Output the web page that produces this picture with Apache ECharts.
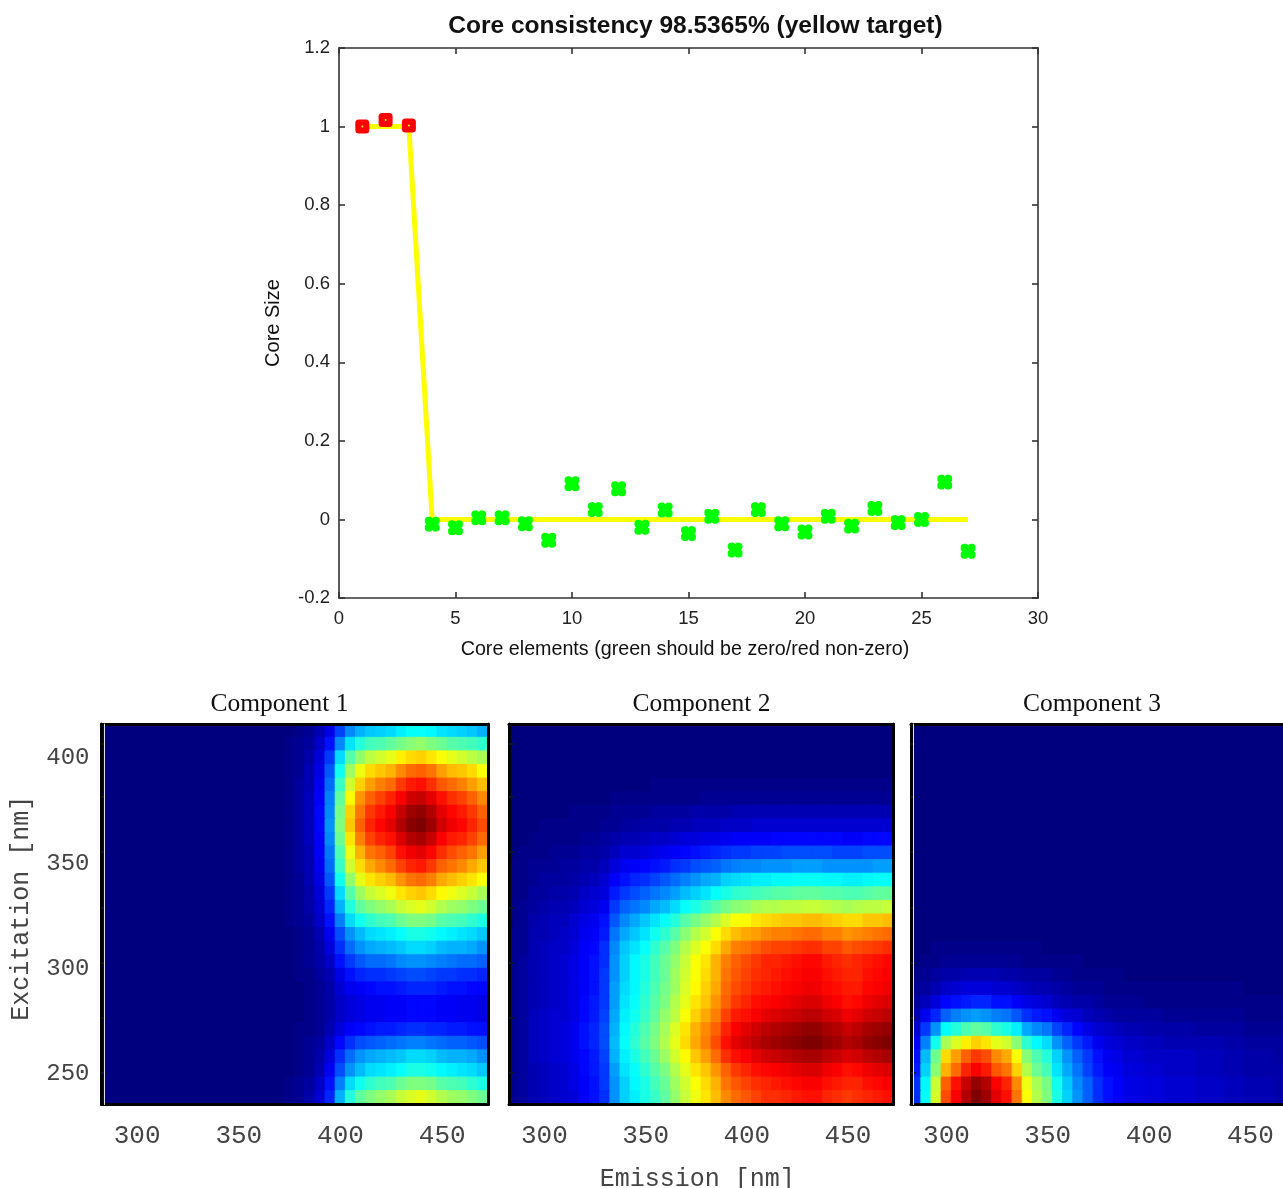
<!DOCTYPE html>
<html><head><meta charset="utf-8">
<style>html,body{margin:0;padding:0;background:#fff}#c{width:1283px;height:1188px}</style>
<script src="https://cdn.jsdelivr.net/npm/echarts@6/dist/echarts.min.js"></script>
</head><body><div id="c"></div>
<script>
const targetX=[1,2,3,4,27];
const targetY=[1,1,1,0,0];
const redX=[1,2,3];
const redY=[1.000,1.017,1.003];
const greenX=[4,5,6,7,8,9,10,11,12,13,14,15,16,17,18,19,20,21,22,23,24,25,26,27];
const greenY=[-0.012,-0.021,0.004,0.004,-0.011,-0.053,0.091,0.025,0.078,-0.020,0.024,-0.036,0.008,-0.078,0.025,-0.011,-0.032,0.008,-0.017,0.028,-0.008,0.000,0.095,-0.081];
const emission=[285,290,295,300,305,310,315,320,325,330,335,340,345,350,355,360,365,370,375,380,385,390,395,400,405,410,415,420,425,430,435,440,445,450,455,460,465,470];
const excitation=[413,407,400,394,387,381,375,368,362,355,349,342,336,329,323,316,310,303,297,290,284,277,271,264,258,251,245,238];
const emTicks=[300,350,400,450];
const exLabels=[250,300,350,400];
const exTicks=[250.4,276.6,302.8,329,355.2,381.4,407];
const component1=[
[0,0,0,0,0,0,0,0,0,0,0,0,0,0,0,0,0,0,0,1,2,5,10,19,26,30,32,33,34,36,38,38,37,35,34,33,32,30],
[0,0,0,0,0,0,0,0,0,0,0,0,0,0,0,0,0,0,1,2,3,7,14,26,35,41,44,45,47,49,51,52,50,48,46,45,44,42],
[0,0,0,0,0,0,0,0,0,0,0,0,0,0,0,0,0,0,1,2,4,9,18,34,46,52,56,58,60,64,66,67,65,62,60,58,56,54],
[0,0,0,0,0,0,0,0,0,0,0,0,0,0,0,0,0,0,1,2,5,10,21,39,53,61,66,68,70,74,77,78,76,72,69,68,66,62],
[0,0,0,0,0,0,0,0,0,0,0,0,0,0,0,0,0,0,1,3,5,11,23,43,58,67,72,75,77,82,85,86,83,79,77,75,72,69],
[0,0,0,0,0,0,0,0,0,0,0,0,0,0,0,0,0,0,1,3,6,12,25,47,63,73,78,81,84,88,92,93,90,86,83,81,78,74],
[0,0,0,0,0,0,0,0,0,0,0,0,0,0,0,0,0,0,1,3,6,13,26,49,67,76,82,85,88,93,97,98,95,90,87,85,82,78],
[0,0,0,0,0,0,0,0,0,0,0,0,0,0,0,0,0,0,1,3,6,13,27,50,68,78,84,87,90,95,99,100,97,92,89,87,84,80],
[0,0,0,0,0,0,0,0,0,0,0,0,0,0,0,0,0,0,1,3,6,12,26,48,65,75,81,84,86,91,95,96,93,88,85,84,81,77],
[0,0,0,0,0,0,0,0,0,0,0,0,0,0,0,0,0,0,1,3,5,12,24,45,61,70,76,78,81,86,89,90,87,83,80,78,76,72],
[0,0,0,0,0,0,0,0,0,0,0,0,0,0,0,0,0,0,1,3,5,11,23,43,58,66,71,74,77,81,84,85,82,78,76,74,71,68],
[0,0,0,0,0,0,0,0,0,0,0,0,0,0,0,0,0,0,1,2,5,10,21,39,52,60,65,67,69,73,76,77,75,71,69,67,65,62],
[0,0,0,0,0,0,0,0,0,0,0,0,0,0,0,0,0,0,1,2,4,9,18,34,46,53,57,59,61,65,67,68,66,63,61,59,57,54],
[0,0,0,0,0,0,0,0,0,0,0,0,0,0,0,0,0,0,1,2,4,8,16,30,41,47,50,52,54,57,59,60,58,55,53,52,50,48],
[0,0,0,0,0,0,0,0,0,0,0,0,0,0,0,0,0,0,1,2,3,7,14,25,34,39,42,44,45,48,50,50,49,46,45,44,42,40],
[0,0,0,0,0,0,0,0,0,0,0,0,0,0,0,0,0,0,0,1,2,5,11,20,27,31,34,35,36,38,40,40,39,37,36,35,34,32],
[0,0,0,0,0,0,0,0,0,0,0,0,0,0,0,0,0,0,0,1,2,4,9,17,23,27,29,30,31,32,34,34,33,31,30,30,29,27],
[0,0,0,0,0,0,0,0,0,0,0,0,0,0,0,0,0,0,0,1,2,4,7,14,18,21,23,23,24,26,27,27,26,25,24,23,23,22],
[0,0,0,0,0,0,0,0,0,0,0,0,0,0,0,0,0,0,0,1,1,3,5,10,14,16,17,17,18,19,20,20,19,18,18,17,17,16],
[0,0,0,0,0,0,0,0,0,0,0,0,0,0,0,0,0,0,0,0,1,2,4,8,11,12,13,14,14,15,16,16,16,15,14,14,13,13],
[0,0,0,0,0,0,0,0,0,0,0,0,0,0,0,0,0,0,0,0,1,2,4,7,9,10,11,11,12,12,13,13,13,12,12,11,11,10],
[0,0,0,0,0,0,0,0,0,0,0,0,0,0,0,0,0,0,0,0,1,2,4,7,9,10,11,11,12,12,13,13,13,12,12,11,11,10],
[0,0,0,0,0,0,0,0,0,0,0,0,0,0,0,0,0,0,0,1,1,2,5,9,12,13,14,15,15,16,17,17,16,16,15,15,14,14],
[0,0,0,0,0,0,0,0,0,0,0,0,0,0,0,0,0,0,0,1,2,3,7,13,17,20,21,22,23,24,25,25,24,23,22,22,21,20],
[0,0,0,0,0,0,0,0,0,0,0,0,0,0,0,0,0,0,0,1,2,4,9,17,23,27,29,30,31,32,34,34,33,31,30,30,29,27],
[0,0,0,0,0,0,0,0,0,0,0,0,0,0,0,0,0,0,0,1,2,5,11,20,27,31,34,35,36,38,40,40,39,37,36,35,34,32],
[0,0,0,0,0,0,0,0,0,0,0,0,0,0,0,0,0,0,1,2,3,7,14,25,34,39,42,44,45,48,50,50,49,46,45,44,42,40],
[0,0,0,0,0,0,0,0,0,0,0,0,0,0,0,0,0,0,1,2,4,8,16,30,41,47,50,52,54,57,59,60,58,55,53,52,50,48]
];
const component2=[
[0,0,0,0,0,0,0,0,0,0,0,0,0,0,0,0,0,0,0,0,0,0,0,0,0,0,0,0,0,0,0,0,0,0,0,0,0,0],
[0,0,0,0,0,0,0,0,0,0,0,0,0,0,0,0,0,0,0,0,0,0,0,0,0,0,0,0,0,0,0,0,0,0,0,0,0,0],
[0,0,0,0,0,0,0,0,0,0,0,0,0,0,0,0,0,0,0,0,0,0,0,0,0,0,0,0,0,0,0,0,0,0,0,0,0,0],
[0,0,0,0,0,0,0,0,0,0,0,0,0,0,0,0,0,0,0,0,0,0,0,0,0,0,0,0,0,0,0,0,0,0,0,0,0,0],
[0,0,0,0,0,0,0,0,0,0,0,0,0,0,1,1,1,1,1,1,1,1,1,1,1,1,1,1,1,1,1,1,1,1,1,1,1,1],
[0,0,0,0,0,0,0,0,0,0,1,1,1,1,1,1,1,1,1,2,2,2,2,2,2,2,2,2,2,2,2,2,2,2,2,2,2,2],
[0,0,0,0,0,0,1,1,1,1,2,2,2,2,3,3,3,3,4,4,4,4,5,5,5,5,5,5,5,5,5,5,5,5,5,5,5,5],
[0,0,0,1,1,1,1,1,1,2,2,3,3,4,4,4,5,5,6,6,6,7,7,7,8,8,8,8,8,8,8,8,8,8,8,8,8,8],
[0,0,1,1,1,1,1,2,2,3,4,5,5,6,7,7,8,9,9,10,10,11,12,12,12,12,13,13,13,13,13,13,13,12,12,13,13,13],
[0,1,1,1,2,2,2,3,3,4,6,8,8,9,10,11,12,13,14,15,16,17,18,18,19,19,19,20,20,20,20,20,19,19,19,20,20,20],
[1,1,2,2,2,3,3,4,4,6,9,11,12,13,14,15,17,18,20,21,22,24,25,26,26,27,27,27,28,28,28,27,27,27,27,27,28,28],
[1,1,2,3,3,3,4,5,6,8,12,14,16,17,19,21,23,25,27,29,30,33,34,35,36,36,37,37,38,38,38,37,37,36,36,37,38,38],
[1,1,3,3,4,4,5,7,8,9,15,18,20,22,24,26,28,31,33,35,38,40,42,43,44,45,46,46,47,47,47,46,46,45,45,46,47,47],
[1,2,3,4,5,5,6,8,9,11,18,22,24,26,29,31,34,38,40,43,46,49,51,52,54,55,55,56,56,57,57,56,55,54,55,56,56,57],
[1,2,4,5,6,6,8,10,11,14,21,26,29,32,35,38,41,46,49,52,55,59,62,63,65,66,67,68,68,69,69,68,67,66,66,68,68,69],
[2,2,5,5,6,7,8,11,12,15,24,29,32,35,39,42,46,51,55,58,62,66,69,71,72,74,75,75,76,77,77,75,75,73,74,75,76,77],
[2,2,5,6,7,7,9,12,13,17,26,32,35,38,42,46,50,55,59,62,66,71,75,76,78,80,81,81,82,83,83,81,81,79,80,81,82,83],
[2,3,5,6,7,8,10,12,14,17,27,33,37,40,44,48,52,57,62,65,70,75,78,80,82,84,84,85,86,87,87,85,84,83,84,85,86,87],
[2,3,5,6,7,8,10,12,14,18,27,33,37,40,44,48,53,58,62,66,70,76,79,81,83,84,85,86,87,88,88,86,85,84,84,86,87,88],
[2,3,5,6,7,8,10,12,14,18,28,34,37,41,45,49,53,59,63,67,71,77,80,82,84,85,86,87,88,89,89,87,86,85,85,87,88,89],
[2,3,5,6,7,8,10,13,15,18,28,35,38,42,46,50,55,60,65,68,73,78,82,84,86,87,88,89,90,91,91,89,88,86,87,89,90,91],
[2,3,6,7,8,8,10,13,15,19,29,36,39,43,47,52,56,62,67,71,75,81,85,86,88,90,91,92,93,94,94,92,91,89,90,92,93,94],
[2,3,6,7,8,9,11,14,16,20,30,37,41,45,49,54,59,65,70,74,78,84,88,90,92,94,95,96,97,98,98,96,95,93,94,96,97,98],
[2,3,6,7,8,9,11,14,16,20,31,38,42,46,50,55,60,66,71,75,80,86,90,92,94,96,97,98,99,100,100,98,97,95,96,98,99,100],
[2,3,6,7,8,9,11,13,15,19,30,36,40,44,48,53,58,63,68,72,77,83,86,88,90,92,93,94,95,96,96,94,93,91,92,94,95,96],
[2,3,5,6,7,8,10,13,15,18,28,35,38,42,46,50,55,60,65,68,73,78,82,84,86,87,88,89,90,91,91,89,88,86,87,89,90,91],
[2,3,5,6,7,8,10,12,14,18,27,33,37,40,44,48,53,58,62,66,70,76,79,81,83,84,85,86,87,88,88,86,85,84,84,86,87,88],
[2,3,5,6,7,8,9,12,14,17,27,33,36,40,43,47,52,57,61,65,69,74,77,79,81,83,83,84,85,86,86,84,83,82,83,84,85,86]
];
const component3=[
[0,0,0,0,0,0,0,0,0,0,0,0,0,0,0,0,0,0,0,0,0,0,0,0,0,0,0,0,0,0,0,0,0,0,0,0,0,0],
[0,0,0,0,0,0,0,0,0,0,0,0,0,0,0,0,0,0,0,0,0,0,0,0,0,0,0,0,0,0,0,0,0,0,0,0,0,0],
[0,0,0,0,0,0,0,0,0,0,0,0,0,0,0,0,0,0,0,0,0,0,0,0,0,0,0,0,0,0,0,0,0,0,0,0,0,0],
[0,0,0,0,0,0,0,0,0,0,0,0,0,0,0,0,0,0,0,0,0,0,0,0,0,0,0,0,0,0,0,0,0,0,0,0,0,0],
[0,0,0,0,0,0,0,0,0,0,0,0,0,0,0,0,0,0,0,0,0,0,0,0,0,0,0,0,0,0,0,0,0,0,0,0,0,0],
[0,0,0,0,0,0,0,0,0,0,0,0,0,0,0,0,0,0,0,0,0,0,0,0,0,0,0,0,0,0,0,0,0,0,0,0,0,0],
[0,0,0,0,0,0,0,0,0,0,0,0,0,0,0,0,0,0,0,0,0,0,0,0,0,0,0,0,0,0,0,0,0,0,0,0,0,0],
[0,0,0,0,0,0,0,0,0,0,0,0,0,0,0,0,0,0,0,0,0,0,0,0,0,0,0,0,0,0,0,0,0,0,0,0,0,0],
[0,0,0,0,0,0,0,0,0,0,0,0,0,0,0,0,0,0,0,0,0,0,0,0,0,0,0,0,0,0,0,0,0,0,0,0,0,0],
[0,0,0,0,0,0,0,0,0,0,0,0,0,0,0,0,0,0,0,0,0,0,0,0,0,0,0,0,0,0,0,0,0,0,0,0,0,0],
[0,0,0,0,0,0,0,0,0,0,0,0,0,0,0,0,0,0,0,0,0,0,0,0,0,0,0,0,0,0,0,0,0,0,0,0,0,0],
[0,0,0,0,0,0,0,0,0,0,0,0,0,0,0,0,0,0,0,0,0,0,0,0,0,0,0,0,0,0,0,0,0,0,0,0,0,0],
[0,0,0,0,0,0,0,0,0,0,0,0,0,0,0,0,0,0,0,0,0,0,0,0,0,0,0,0,0,0,0,0,0,0,0,0,0,0],
[0,0,0,0,0,0,0,0,0,0,0,0,0,0,0,0,0,0,0,0,0,0,0,0,0,0,0,0,0,0,0,0,0,0,0,0,0,0],
[0,0,0,0,0,0,0,0,0,0,0,0,0,0,0,0,0,0,0,0,0,0,0,0,0,0,0,0,0,0,0,0,0,0,0,0,0,0],
[0,0,0,0,0,0,0,0,0,0,0,0,0,0,0,0,0,0,0,0,0,0,0,0,0,0,0,0,0,0,0,0,0,0,0,0,0,0],
[0,0,1,1,1,1,1,1,1,1,1,1,1,0,0,0,0,0,0,0,0,0,0,0,0,0,0,0,0,0,0,0,0,0,0,0,0,0],
[0,1,1,2,2,2,2,2,2,2,2,1,1,1,1,1,1,0,0,0,0,0,0,0,0,0,0,0,0,0,0,0,0,0,0,0,0,0],
[1,2,3,4,4,5,5,5,5,4,4,3,3,3,2,2,1,1,1,1,1,0,0,0,0,0,0,0,0,0,0,0,0,0,0,0,0,0],
[2,3,5,7,8,9,9,9,8,8,7,6,5,5,4,3,2,2,2,1,1,1,1,1,1,1,1,1,1,1,1,1,1,0,0,0,0,0],
[3,6,9,13,14,15,16,16,14,14,12,10,9,8,6,5,4,4,3,2,2,2,2,1,1,1,1,1,1,1,1,1,1,1,1,1,1,1],
[5,11,16,22,25,27,28,27,25,24,21,17,15,14,11,9,8,6,5,4,3,3,3,3,3,2,2,2,2,2,2,2,2,1,1,1,1,1],
[8,18,27,38,41,45,47,46,42,40,36,29,26,24,19,16,13,10,8,7,6,5,5,4,4,4,4,4,3,3,3,3,3,2,2,2,2,2],
[11,25,39,54,59,64,67,65,60,58,51,42,37,34,27,22,18,15,11,9,8,7,7,6,6,5,5,5,5,5,5,4,4,3,3,3,3,3],
[14,31,48,66,72,78,82,80,74,71,62,51,45,41,33,27,22,18,14,11,10,8,8,7,7,7,7,7,6,6,6,5,5,4,4,4,3,3],
[15,33,51,70,77,84,88,85,79,76,67,55,48,44,35,29,24,19,15,12,11,9,9,8,8,7,7,7,6,6,6,5,5,4,4,4,4,4],
[17,37,57,78,86,93,98,95,88,84,74,61,54,49,39,32,26,22,17,14,12,10,10,9,9,8,8,8,7,7,7,6,6,5,5,5,4,4],
[17,38,58,80,88,95,100,97,90,86,76,62,55,50,40,33,27,22,17,14,12,10,10,9,9,8,8,8,7,7,7,6,6,5,5,5,4,4]
];
const panelNames=['Component 1','Component 2','Component 3'];
const jet=['#00007f','#0000ff','#007fff','#00ffff','#7fff7f','#ffff00','#ff7f00','#ff0000','#7f0000'];
const clover='path://M2.5 0A2.5 2.5 0 0 1 5 1A2.5 2.5 0 0 1 7.5 0A2.5 2.5 0 0 1 10 2.5A2.5 2.5 0 0 1 9 5A2.5 2.5 0 0 1 10 7.5A2.5 2.5 0 0 1 7.5 10A2.5 2.5 0 0 1 5 9A2.5 2.5 0 0 1 2.5 10A2.5 2.5 0 0 1 0 7.5A2.5 2.5 0 0 1 1 5A2.5 2.5 0 0 1 0 2.5A2.5 2.5 0 0 1 2.5 0Z';
const SANS='"Liberation Sans",Arial,sans-serif',MONO='"Liberation Mono",monospace',SERIF='"Liberation Serif",serif';
const zip=(a,b)=>a.map((v,i)=>[v,b[i]]);
// cell edge colour equals its fill so neighbouring cells leave no antialiasing seams
const jetAt=v=>echarts.color.lerp(v/100,jet);
const cells=g=>{const o=[];g.forEach((r,j)=>r.forEach((v,i)=>o.push({value:[i,j,v],itemStyle:{borderColor:jetAt(v),borderWidth:1}})));return o;};

const panelGeom=[{left:101.5,width:386.5},{left:509,width:384.5},{left:911,width:385}];
const grids=[{left:339,width:699,top:48,height:550,outerBoundsMode:'none'}];
panelGeom.forEach(p=>grids.push({left:p.left,width:p.width,top:724,height:380.5,outerBoundsMode:'none'}));

const lineStyle={color:'#333',width:1.6};
const plainLine={show:true,onZero:false,lineStyle};
const xAxes=[
 {gridIndex:0,type:'value',min:0,max:30,interval:5,position:'bottom',splitLine:{show:false},
  axisLine:plainLine,axisTick:{inside:true,length:6,lineStyle},
  axisLabel:{color:'#222',fontFamily:SANS,fontSize:18.5,margin:11},
  name:'Core elements (green should be zero/red non-zero)',nameLocation:'middle',nameGap:42,
  nameTextStyle:{color:'#111',fontFamily:SANS,fontSize:19.7,padding:[0,7,0,0]}},
 {gridIndex:0,type:'value',min:0,max:30,interval:5,position:'top',splitLine:{show:false},
  axisLine:plainLine,axisTick:{inside:true,length:6,lineStyle},axisLabel:{show:false}}
];
const yAxes=[
 {gridIndex:0,type:'value',min:-0.2,max:1.2,interval:0.2,position:'left',splitLine:{show:false},
  axisLine:plainLine,axisTick:{inside:true,length:6,lineStyle},
  axisLabel:{color:'#222',fontFamily:SANS,fontSize:18.5,margin:9,formatter:v=>String(+v.toFixed(1))},
  name:'Core Size',nameLocation:'middle',nameRotate:90,nameGap:56,
  nameTextStyle:{color:'#111',fontFamily:SANS,fontSize:20}},
 {gridIndex:0,type:'value',min:-0.2,max:1.2,interval:0.2,position:'right',splitLine:{show:false},
  axisLine:plainLine,axisTick:{inside:true,length:6,lineStyle},axisLabel:{show:false}}
];
const frame={show:true,onZero:false,lineStyle:{color:'#000',width:3}};
const series=[
 {type:'line',xAxisIndex:0,yAxisIndex:0,data:zip(targetX,targetY),symbol:'none',z:2,lineStyle:{color:'#ffff00',width:5},itemStyle:{color:'#ffff00'}},
 {type:'scatter',xAxisIndex:0,yAxisIndex:0,data:zip(greenX,greenY),symbol:clover,symbolSize:15,z:3,itemStyle:{color:'#00ff00',opacity:1}},
 {type:'scatter',xAxisIndex:0,yAxisIndex:0,data:zip(redX,redY),symbol:'roundRect',symbolSize:14,z:3,itemStyle:{color:'#ff0000',opacity:1}},
 {type:'scatter',xAxisIndex:0,yAxisIndex:0,data:zip(redX,redY),symbol:'circle',symbolSize:2,z:4,itemStyle:{color:'#ffff00',opacity:1}}
];
const heatSeries=[];
[component1,component2,component3].forEach((grid,i)=>{
  const g=i+1;
  const xCat=xAxes.length;
  xAxes.push({gridIndex:g,type:'category',data:emission.map(String),position:'bottom',z:10,
    axisLine:frame,axisTick:{show:false},splitLine:{show:false},
    axisLabel:{color:'#444',fontFamily:MONO,fontSize:26,margin:19,interval:(idx,val)=>emTicks.includes(+val)},
    ...(i===1?{name:'Emission [nm]',nameLocation:'middle',nameGap:62,nameTextStyle:{color:'#444',fontFamily:MONO,fontSize:25,padding:[0,8,0,0]}}:{})});
  xAxes.push({gridIndex:g,type:'value',min:283.3,max:473,position:'top',z:10,axisLine:frame,axisTick:{show:false},axisLabel:{show:false},splitLine:{show:false}});
  const yCat=yAxes.length;
  yAxes.push({gridIndex:g,type:'category',inverse:true,data:excitation.map(String),position:'right',z:10,
    axisLine:frame,axisTick:{show:false},axisLabel:{show:false},splitLine:{show:false}});
  yAxes.push({gridIndex:g,type:'value',min:235.2,max:416.2,position:'left',z:10,axisLine:frame,splitLine:{show:false},
    axisTick:{show:true,inside:true,length:5,customValues:exTicks,lineStyle:{color:'#101030',width:2}},
    axisLabel:{show:i===0,color:'#444',fontFamily:MONO,fontSize:24,margin:12,customValues:exLabels},
    ...(i===0?{name:'Excitation [nm]',nameLocation:'middle',nameRotate:90,nameGap:68,nameTextStyle:{color:'#444',fontFamily:MONO,fontSize:25,padding:[0,0,0,12]}}:{})});
  if(i!==1){
    yAxes.push({gridIndex:g,type:'value',min:235.2,max:416.2,position:'left',offset:-2.5,z:11,
      axisLine:{show:true,onZero:false,lineStyle:{color:'#dde',width:1}},axisTick:{show:false},axisLabel:{show:false},splitLine:{show:false}});
  }
  heatSeries.push(series.length);
  series.push({type:'heatmap',xAxisIndex:xCat,yAxisIndex:yCat,data:cells(grid),progressive:0,animation:false,emphasis:{disabled:true}});
});
const titles=[{text:'Core consistency 98.5365% (yellow target)',left:695.5,top:14,padding:0,textAlign:'center',
  textStyle:{fontFamily:SANS,fontWeight:'bold',fontSize:24.5,color:'#111'}}];
const titleX=[279.5,701.5,1092];
panelNames.forEach((n,i)=>titles.push({text:n,left:titleX[i],top:691,padding:0,textAlign:'center',textStyle:{fontFamily:SERIF,fontWeight:'normal',fontSize:25.5,color:'#111'}}));

const chart=echarts.init(document.getElementById('c'),null,{renderer:'canvas'});
chart.setOption({animation:false,backgroundColor:'#fff',title:titles,grid:grids,xAxis:xAxes,yAxis:yAxes,
  visualMap:{show:false,type:'continuous',min:0,max:100,seriesIndex:heatSeries,inRange:{color:jet}},series});
</script></body></html>
